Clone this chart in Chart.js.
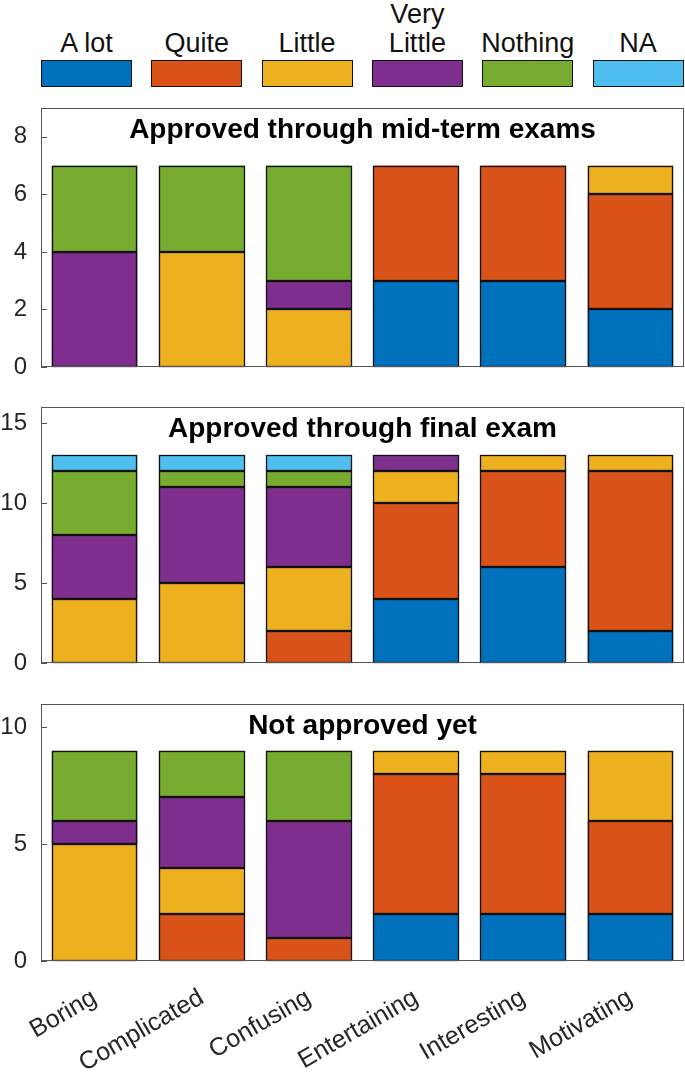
<!DOCTYPE html>
<html>
<head>
<meta charset="utf-8">
<script src="https://cdn.jsdelivr.net/npm/chart.js@4/dist/chart.umd.min.js"></script>
<style>
  html, body { margin: 0; padding: 0; background: #fff; }
  #wrap { position: relative; width: 685px; height: 1072px; font-family: "Liberation Sans", Arial, sans-serif; }
  canvas { position: absolute; left: 0; }
  .legText { position: absolute; top: 0; height: 58px; width: 110px; display: flex; align-items: flex-end; justify-content: center;
             text-align: center; font-size: 27px; line-height: 29px; color: #111; }
  .legBox { position: absolute; top: 60px; width: 91px; height: 27px; box-sizing: border-box; border: 1px solid #111; }
</style>
</head>
<body>
<div id="wrap">
  <div id="legend"></div>
  <canvas id="midChart" width="685" height="290" style="top:93px"></canvas>
  <canvas id="finChart" width="685" height="290" style="top:392px"></canvas>
  <canvas id="notChart" width="685" height="383" style="top:689px"></canvas>
</div>
<script>
const categories = ['Boring', 'Complicated', 'Confusing', 'Entertaining', 'Interesting', 'Motivating'];
const seriesNames = ['A lot', 'Quite', 'Little', 'Very Little', 'Nothing', 'NA'];
const seriesColors = ['#0072BD', '#D95319', '#EDB120', '#7E2F8E', '#77AC30', '#4DBEEE'];

// approved through mid-term exams (one value per category)
const midAlot       = [0, 0, 0, 3, 3, 2];
const midQuite      = [0, 0, 0, 4, 4, 4];
const midLittle     = [0, 4, 2, 0, 0, 1];
const midVeryLittle = [4, 0, 1, 0, 0, 0];
const midNothing    = [3, 3, 4, 0, 0, 0];
const midNA         = [0, 0, 0, 0, 0, 0];

// approved through final exam
const finAlot       = [0, 0, 0, 4, 6, 2];
const finQuite      = [0, 0, 2, 6, 6, 10];
const finLittle     = [4, 5, 4, 2, 1, 1];
const finVeryLittle = [4, 6, 5, 1, 0, 0];
const finNothing    = [4, 1, 1, 0, 0, 0];
const finNA         = [1, 1, 1, 0, 0, 0];

// not approved yet
const notAlot       = [0, 0, 0, 2, 2, 2];
const notQuite      = [0, 2, 1, 6, 6, 4];
const notLittle     = [5, 2, 0, 1, 1, 3];
const notVeryLittle = [1, 3, 5, 0, 0, 0];
const notNothing    = [3, 2, 3, 0, 0, 0];
const notNA         = [0, 0, 0, 0, 0, 0];

const FONT = '"Liberation Sans", Arial, sans-serif';
Chart.defaults.font.family = FONT;

// legend: label above a colored box
const leg = document.getElementById('legend');
seriesNames.forEach((name, i) => {
  const left = 41 + i * 110.3;
  const t = document.createElement('div');
  t.className = 'legText';
  t.style.left = (left + 45.5 - 55) + 'px';
  t.innerHTML = name === 'Very Little' ? 'Very<br>Little' : name;
  leg.appendChild(t);
  const b = document.createElement('div');
  b.className = 'legBox';
  b.style.left = left + 'px';
  b.style.background = seriesColors[i];
  leg.appendChild(b);
});

// crisp black outline round every bar segment, taken from the bar elements
const segmentOutline = {
  id: 'segmentOutline',
  afterDatasetsDraw(chart) {
    const ctx = chart.ctx;
    ctx.save();
    ctx.strokeStyle = '#111';
    ctx.lineWidth = 1.3;
    chart.getSortedVisibleDatasetMetas().forEach(meta => {
      meta.data.forEach((bar, j) => {
        if (chart.data.datasets[meta.index].data[j] == null) return;
        const p = bar.getProps(['x', 'y', 'base', 'width'], true);
        const l = Math.round(p.x - p.width / 2) + 0.5;
        const r = Math.round(p.x + p.width / 2) - 0.5;
        const t = Math.round(Math.min(p.y, p.base)) + 0.5;
        const b = Math.round(Math.max(p.y, p.base)) - 0.5;
        ctx.strokeRect(l, t, r - l, b - t);
      });
    });
    ctx.restore();
  }
};

// frame, inward ticks and the panel title inside the plot
const panelFrame = {
  id: 'panelFrame',
  afterDraw(chart, args, opts) {
    const ctx = chart.ctx;
    const a = chart.chartArea;
    const y = chart.scales.y;
    ctx.save();
    ctx.strokeStyle = '#555';
    ctx.lineWidth = 1;
    ctx.strokeRect(Math.round(a.left) + 0.5, Math.round(a.top) + 0.5,
                   Math.round(a.right - a.left) - 1, Math.round(a.bottom - a.top) - 1);
    y.ticks.forEach(t => {
      const py = Math.round(y.getPixelForValue(t.value)) + 0.5;
      ctx.beginPath();
      ctx.moveTo(a.left, py);
      ctx.lineTo(a.left + 6, py);
      ctx.stroke();
    });
    ctx.fillStyle = '#000';
    ctx.font = 'bold 28px ' + FONT;
    ctx.textAlign = 'center';
    ctx.textBaseline = 'alphabetic';
    ctx.fillText(opts.text, (a.left + a.right) / 2, a.top + 30);
    ctx.restore();
  }
};

function noPad(s) {
  s.paddingTop = 0;
  s.paddingBottom = 0;
  s.paddingLeft = 0;
  s.paddingRight = 0;
}

function makePanel(id, title, yMax, yStep, sets, showLabels, xHeight) {
  const canvas = document.getElementById(id);
  return new Chart(canvas.getContext('2d'), {
    type: 'bar',
    data: {
      labels: categories,
      datasets: sets.map((vals, i) => ({
        label: seriesNames[i],
        data: vals.map(v => v || null),
        backgroundColor: seriesColors[i],
        borderWidth: 0,
        barPercentage: 0.8,
        categoryPercentage: 1
      }))
    },
    options: {
      responsive: false,
      animation: false,
      layout: { padding: { top: 15, right: 1, left: 0, bottom: 0 } },
      plugins: {
        legend: { display: false },
        tooltip: { enabled: false },
        panelFrame: { text: title }
      },
      scales: {
        x: {
          stacked: true,
          grid: { display: false, drawTicks: false },
          border: { display: false },
          ticks: { display: showLabels, minRotation: 30, maxRotation: 30, padding: 22,
                   font: { size: 25 }, color: '#262626' },
          afterFit: s => { s.height = xHeight; noPad(s); }
        },
        y: {
          stacked: true,
          min: 0,
          max: yMax,
          grid: { display: false, drawTicks: false },
          border: { display: false },
          ticks: { stepSize: yStep, includeBounds: false, padding: 14,
                   font: { size: 24 }, color: '#262626' },
          afterFit: s => { s.width = 41; noPad(s); }
        }
      }
    },
    plugins: [segmentOutline, panelFrame]
  });
}

makePanel('midChart', 'Approved through mid-term exams', 9, 2,
  [midAlot, midQuite, midLittle, midVeryLittle, midNothing, midNA], false, 16);
makePanel('finChart', 'Approved through final exam', 16, 5,
  [finAlot, finQuite, finLittle, finVeryLittle, finNothing, finNA], false, 19);
makePanel('notChart', 'Not approved yet', 11, 5,
  [notAlot, notQuite, notLittle, notVeryLittle, notNothing, notNA], true, 111);
</script>
</body>
</html>
